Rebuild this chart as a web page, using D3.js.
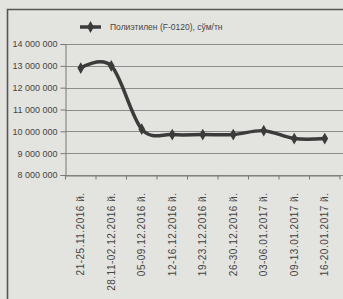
<!DOCTYPE html>
<html><head><meta charset="utf-8">
<script src="https://cdn.jsdelivr.net/npm/d3@7"></script>
<style>
html,body{margin:0;padding:0;background:#e3e3df;}
svg{display:block;}
text{font-family:"Liberation Sans",Arial,sans-serif;fill:#454545;}
</style></head>
<body><svg id="c" width="343" height="299"></svg>
<script>
const categories = ["21-25.11.2016 й.","28.11-02.12.2016 й.","05-09.12.2016 й.","12-16.12.2016 й.","19-23.12.2016 й.","26-30.12.2016 й.","03-06.01.2017 й.","09-13.01.2017 й.","16-20.01.2017 й."];
const values = [12900000, 13000000, 10100000, 9850000, 9850000, 9850000, 10030000, 9670000, 9670000];
const yTicks = [8000000, 9000000, 10000000, 11000000, 12000000, 13000000, 14000000];
const seriesName = "Полиэтилен (F-0120), сўм/тн";

const svg = d3.select("#c");
const W = 343, H = 299;
svg.append("rect").attr("width", W).attr("height", H).attr("fill", "#e3e3df");
// outer frame
svg.append("path").attr("d", "M7.5,299 V9.5 H343").attr("fill", "none").attr("stroke", "#555").attr("stroke-width", 1.6);

const x = d3.scaleBand().domain(categories).range([65.5, 340]);
const y = d3.scaleLinear().domain([8000000, 14000000]).range([175, 44]);
const fmt = v => d3.format(",")(v).replace(/,/g, " ");

// gridlines
svg.append("g").selectAll("line").data(yTicks).join("line")
  .attr("x1", 65.5).attr("x2", W).attr("y1", d => Math.round(y(d)) + 0.5).attr("y2", d => Math.round(y(d)) + 0.5)
  .attr("stroke", "#8c8c8a").attr("stroke-width", 1);

// y axis
const yAxis = svg.append("g").attr("transform", "translate(65.5,0)")
  .call(d3.axisLeft(y).tickValues(yTicks).tickFormat(fmt).tickSize(5).tickPadding(3));
yAxis.select(".domain").attr("stroke", "#777");
yAxis.selectAll(".tick line").attr("stroke", "#777");
yAxis.selectAll("text").attr("font-size", 9).attr("fill", "#454545").style("font-family", "Liberation Sans, Arial, sans-serif");

// x axis
const xAxis = svg.append("g").attr("transform", "translate(0,175.5)")
  .call(d3.axisBottom(x).tickSize(0).tickPadding(0));
xAxis.select(".domain").attr("stroke", "#777");
xAxis.selectAll(".tick text")
  .attr("font-size", 10).attr("fill", "#454545").style("font-family", "Liberation Sans, Arial, sans-serif")
  .style("letter-spacing", "0.5px")
  .attr("transform", "rotate(-90)")
  .attr("text-anchor", "end").attr("x", -17).attr("y", 0).attr("dy", "0.35em");
// tick marks at category boundaries
const bounds = categories.map(c => x(c)).concat([x.range()[1]]);
svg.append("g").selectAll("line").data(bounds).join("line")
  .attr("x1", d => d).attr("x2", d => d).attr("y1", 175.5).attr("y2", 179.5)
  .attr("stroke", "#777");

// line
const pts = categories.map((c, i) => [x(c) + x.bandwidth() / 2, y(values[i])]);
svg.append("path").datum(pts)
  .attr("d", d3.line().curve(d3.curveCatmullRom.alpha(0)))
  .attr("fill", "none").attr("stroke", "#3b3b3b").attr("stroke-width", 3.5).attr("stroke-linejoin", "round");
const diamond = d3.symbol().type(d3.symbolDiamond).size(40);
svg.append("g").selectAll("path").data(pts).join("path")
  .attr("d", diamond).attr("transform", d => `translate(${d[0]},${d[1]})`).attr("fill", "#3b3b3b");

// legend
const lg = svg.append("g");
lg.append("line").attr("x1", 80).attr("x2", 101).attr("y1", 27).attr("y2", 27).attr("stroke", "#3b3b3b").attr("stroke-width", 3.5);
lg.append("path").attr("d", diamond).attr("transform", "translate(90.5,27)").attr("fill", "#3b3b3b");
lg.append("text").attr("x", 110).attr("y", 27).attr("dy", "0.35em").attr("font-size", 8.5).text(seriesName);
</script></body></html>
